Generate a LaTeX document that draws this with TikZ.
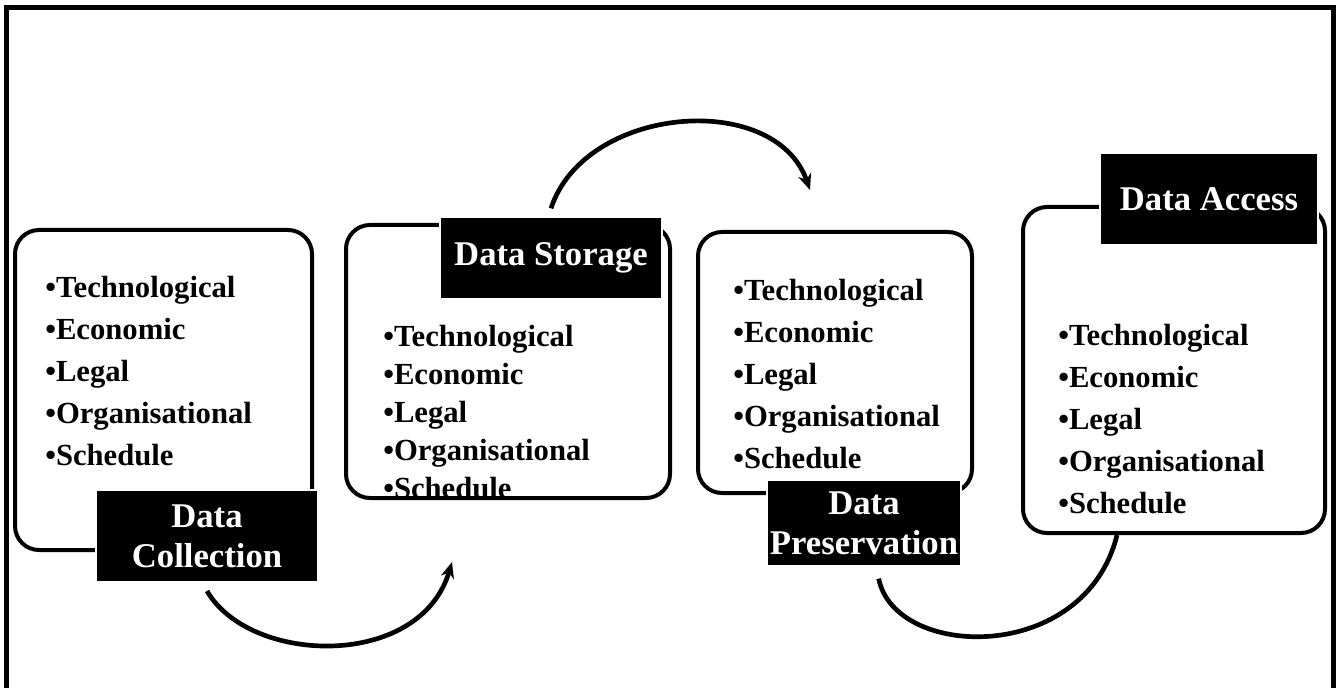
\documentclass[tikz,border=0pt]{standalone}
\usepackage{fontspec}
\setmainfont{Liberation Serif}
\usetikzlibrary{arrows.meta,fit}

% the five factors listed in every stage
\newcommand{\factorlist}{\textbullet Technological\\\textbullet Economic\\\textbullet Legal\\\textbullet Organisational\\\textbullet Schedule}

\begin{document}
\begin{tikzpicture}[x=0.75pt, y=-0.75pt,
    stage/.style={draw, line width=3pt, rounded corners=18pt, inner sep=0pt},
    tag/.style={fill=black, draw=white, line width=1.5pt, text=white, inner sep=0pt,
        align=center, font=\bfseries\fontsize{26}{30}\selectfont},
    factors/.style={anchor=west, align=left, inner sep=0pt,
        font=\bfseries\fontsize{23}{31.5}\selectfont},
    flow/.style={line width=3.5pt, -{Stealth[length=12pt, width=10pt]}}]

    \useasboundingbox (0,0) rectangle (1339,688);

    % Frame, open at the bottom
    \draw[line width=3.75pt] (6,688) -- (6,8) -- (1333,8) -- (1333,688);

    % Stage boxes
    \node[stage, fit={(15,230) (312,550)}] (collectbox) {};
    \node[stage, fit={(346,225) (670,498)}] (storagebox) {};
    \node[stage, fit={(698,232) (972,493)}] (preservebox) {};
    \node[stage, fit={(1023,207) (1325,533)}] (accessbox) {};

    % Factor lists
    \node[factors] (collectlist) at (45,371) {\factorlist};
    \node[factors, font=\bfseries\fontsize{23}{28.5}\selectfont] (storagelist) at (383,412) {\factorlist};
    \node[factors] (preservelist) at (733,374) {\factorlist};
    \node[factors] (accesslist) at (1058,419) {\factorlist};

    % Stage labels
    \node[tag, minimum width=166pt, minimum height=69pt] (collect) at (207,536) {Data\\Collection};
    \node[tag, minimum width=166pt, minimum height=61pt] (storage) at (551,258) {Data Storage};
    \node[tag, minimum width=146pt, minimum height=64pt] (preserve) at (864,523) {Data\\Preservation};
    \node[tag, minimum width=164pt, minimum height=69pt] (access) at (1209,199) {Data Access};

    % Arrows between the stages
    \coordinate (storagein) at (452,562);
    \coordinate (preservein) at (810,190);
    \coordinate (accessin) at (1117,535);

    \draw[flow] ([yshift=-6pt]collect.south) .. controls (250,665) and (420,670) .. (storagein);
    \draw[flow] ([yshift=6pt]storage.north) .. controls (585,105) and (775,90) .. (preservein);
    \draw[line width=3.5pt] ([xshift=11pt, yshift=-9pt]preserve.south) .. controls (895,660) and (1085,665) .. (accessin);

\end{tikzpicture}
\end{document}
